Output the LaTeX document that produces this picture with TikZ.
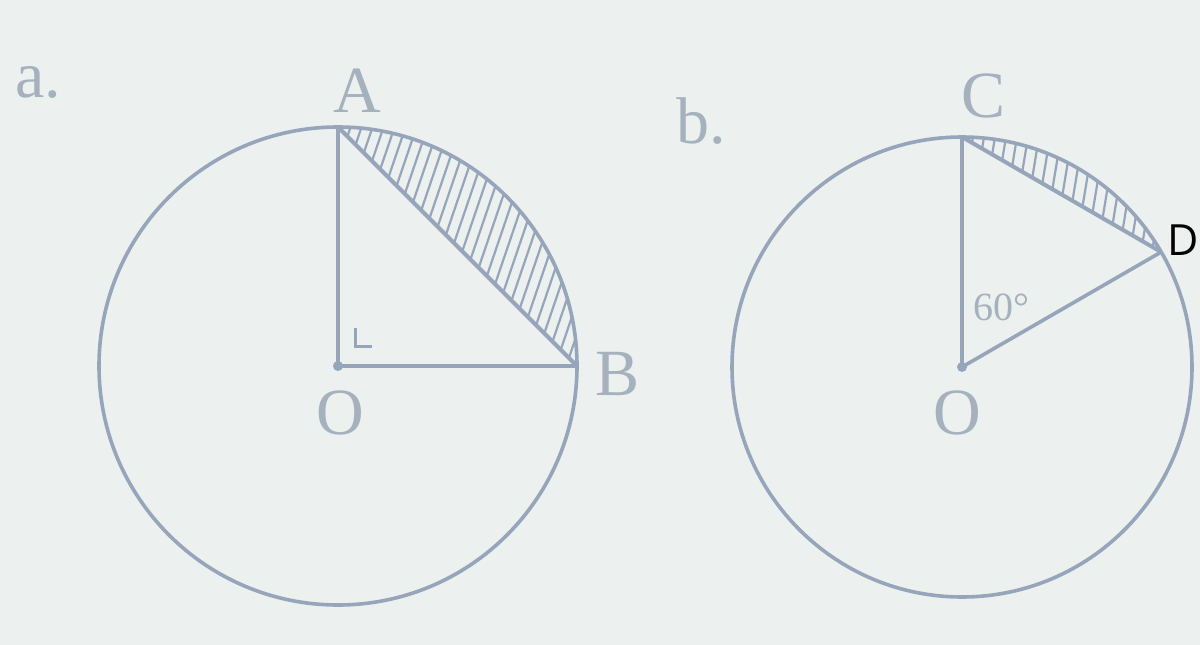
\documentclass[tikz,border=0pt]{standalone}
\usepackage{fontspec}
\setmainfont{Liberation Serif}
\newfontfamily\dfont{Open Sans}
\definecolor{bgcol}{RGB}{236,240,239}
\definecolor{linecol}{RGB}{150,165,186}
\definecolor{txtcol}{RGB}{166,177,190}
\begin{document}
\begin{tikzpicture}[x=1pt,y=-1pt,
  geo/.style={draw=linecol,line width=3.6pt},
  hatchline/.style={draw=linecol,line width=2.2pt},
  lbl/.style={text=txtcol,inner sep=0pt,font=\fontsize{66}{70}\selectfont},
  anglbl/.style={text=txtcol,inner sep=0pt,font=\fontsize{40}{44}\selectfont},
  dlbl/.style={text=black,inner sep=0pt,font=\dfont\fontsize{43}{48}\selectfont},
  dot/.style={fill=linecol,circle,inner sep=0pt,minimum size=10pt}]
\fill[bgcol] (0,0) rectangle (1200,645);
\useasboundingbox (0,0) rectangle (1200,645);
% ---------- figure a ----------
\coordinate (Oa) at (338,366);
\coordinate (A) at (338,127);
\coordinate (B) at (577,366);
\begin{scope}
  \clip (Oa) circle (239);
  \clip (A) -- (B) -- (700,366) -- (700,0) -- (338,0) -- cycle;
  \foreach \x in {250,261,...,620} {
    \draw[hatchline] (\x,390) -- (\x+92,120);
  }
\end{scope}
\draw[geo] (Oa) circle (239);
\draw[geo] (A) -- (Oa) -- (B);
\draw[geo,line width=4pt] (A) -- (B);
\node[dot] (Odot) at (Oa) {};
\draw[draw=linecol,line width=3pt] (355,328) -- (355,346) -- (372,346);
\node[lbl,anchor=base west] (la) at (15,97) {a.};
\node[lbl,anchor=base] (lA) at (357,112) {A};
\node[lbl,anchor=base] (lB) at (618,395) {B};
\node[lbl,anchor=base] (lOa) at (340,434) {O};
% ---------- figure b ----------
\coordinate (Ob) at (962,367);
\coordinate (C) at (962,137);
\coordinate (D) at (1161.2,252);
\begin{scope}
  \clip (Ob) circle (230);
  \clip (C) -- (D) -- (1250,252) -- (1250,0) -- (962,0) -- cycle;
  \foreach \x in {940,951,...,1180} {
    \draw[hatchline] (\x,270) -- (\x+24,125);
  }
\end{scope}
\draw[geo] (Ob) circle (230);
\draw[geo] (C) -- (Ob) -- (D);
\draw[geo,line width=4pt] (C) -- (D);
\node[dot] (Obdot) at (Ob) {};
\node[lbl,anchor=base west] (lb) at (676,143) {b.};
\node[lbl,anchor=base] (lC) at (984,117) {C};
\node[lbl,anchor=base] (lOb) at (957,434) {O};
\node[anglbl,anchor=base west] (ang) at (973,320) {60°};
\node[dlbl,anchor=base west] (lD) at (1167,255) {D};
\end{tikzpicture}
\end{document}
